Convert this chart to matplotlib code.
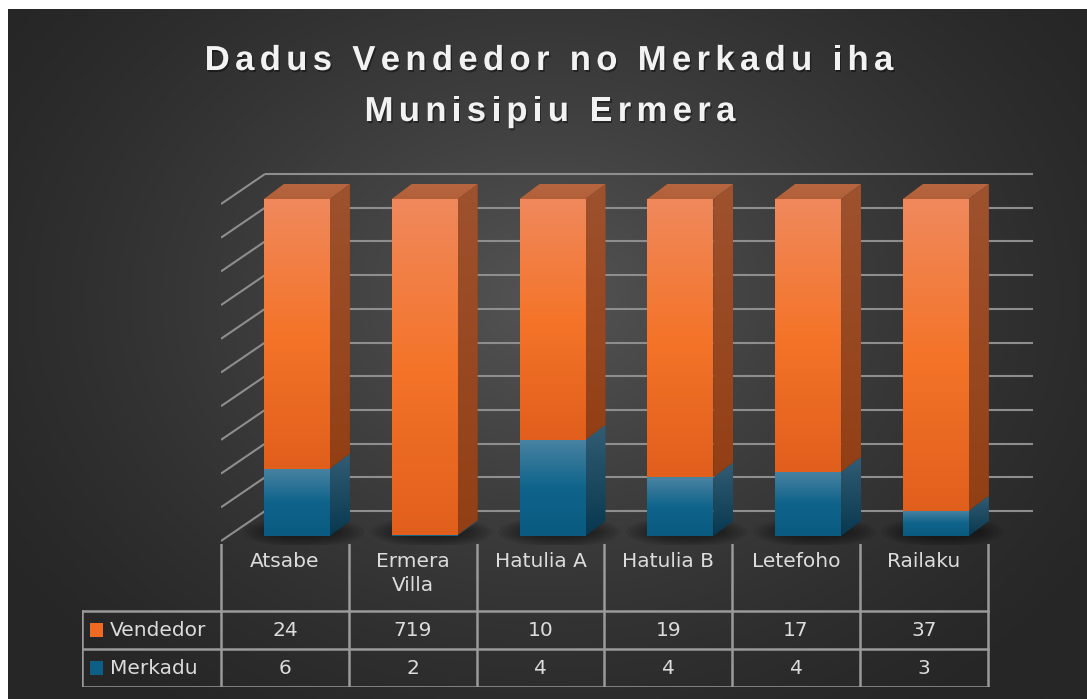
import numpy as np
import matplotlib
matplotlib.use("Agg")
import matplotlib.pyplot as plt
from matplotlib.patches import Rectangle, Polygon, Ellipse
from matplotlib.colors import LinearSegmentedColormap
from matplotlib.font_manager import FontProperties
from matplotlib.textpath import TextToPath
import matplotlib.patheffects as pe

# data
categories = ["Atsabe", "Ermera\nVilla", "Hatulia A", "Hatulia B", "Letefoho", "Railaku"]
vendedor = [24, 719, 10, 19, 17, 37]
merkadu = [6, 2, 4, 4, 4, 3]
series_names = ["Vendedor", "Merkadu"]
title_lines = ["Dadus Vendedor no Merkadu iha", "Munisipiu Ermera"]

W, H = 1087, 699
fig = plt.figure(figsize=(W / 100, H / 100), dpi=100, facecolor="white")


def box(l, t, r, b):
    # pixel box -> figure fraction
    return [l / W, 1 - b / H, (r - l) / W, (b - t) / H]


# dark radial background
bg = fig.add_axes(box(8, 9, W, H))
yy, xx = np.mgrid[0:1:300j, 0:1:400j]
d = np.sqrt(((xx - 0.5) / 0.62) ** 2 + ((yy - 0.42) / 0.75) ** 2)
shade = np.clip(1 - d, 0, 1) ** 1.3
bg_cmap = LinearSegmentedColormap.from_list("bg", ["#262626", "#545454"], N=512)
bg.imshow(shade, cmap=bg_cmap, aspect="auto", extent=(0, 1, 0, 1), origin="upper")
bg.axis("off")

# 3d-ish plot area (x = category, y = percent)
ax = fig.add_axes(box(221, 165, 1040, 545))
ax.axis("off")

px_x = 127.8   # pixels per category
px_y = 3.37    # pixels per percent
bar_off = 12 / px_x
bar_w = 66 / px_x
dx, dy = 20 / px_x, 15 / px_y
wall_y0 = -5 / px_y
wall_dx, wall_dy = 44 / px_x, 30 / px_y
x_end = -0.5 + 812 / px_x
grid_c = "#8e8e8e"

for p in range(0, 101, 10):
    ax.plot([-0.5, -0.5 + wall_dx], [p + wall_y0, p + wall_y0 + wall_dy],
            color=grid_c, lw=1.5, zorder=1, solid_capstyle="butt")
    ax.plot([-0.5 + wall_dx, x_end], [p + wall_y0 + wall_dy] * 2,
            color=grid_c, lw=1.5, zorder=1, solid_capstyle="butt")


def grad_poly(verts, colors, z):
    poly = Polygon(verts, closed=True, facecolor="none", edgecolor="none", zorder=z)
    ax.add_patch(poly)
    xs = [v[0] for v in verts]
    ys = [v[1] for v in verts]
    cm = LinearSegmentedColormap.from_list("g", colors, N=1024)
    img = ax.imshow(np.linspace(0, 1, 512).reshape(-1, 1), cmap=cm, aspect="auto",
                    extent=(min(xs), max(xs), min(ys), max(ys)), origin="upper",
                    zorder=z, interpolation="bilinear")
    img.set_clip_path(poly)


orange_front = ["#f0895d", "#f47429", "#e15f1c"]
orange_side = ["#9e522e", "#933f15"]
orange_top = ["#b8663f", "#b1603a"]
blue_front = ["#4a83a2", "#0f648b", "#0a5a81"]
blue_side = ["#335d74", "#07384f"]

for i in range(len(categories)):
    total = vendedor[i] + merkadu[i]
    pm = merkadu[i] / total * 100
    x0 = i + bar_off - bar_w / 2
    x1 = x0 + bar_w
    # soft shadow on the floor
    for k in range(7):
        ax.add_patch(Ellipse((x0 + bar_w * 0.6, 1.2), 0.95 - k * 0.07, 9 - k * 0.9,
                             color="black", alpha=0.07, lw=0, zorder=2))
    segs = [(0, pm, blue_front, blue_side), (pm, 100, orange_front, orange_side)]
    for j, (a, b, fc, sc) in enumerate(segs):
        z = 3 + i * 0.1 + j * 0.01
        grad_poly([(x1, a), (x1 + dx, a + dy), (x1 + dx, b + dy), (x1, b)], sc, z)
        grad_poly([(x0, a), (x1, a), (x1, b), (x0, b)], fc, z + 0.005)
    grad_poly([(x0, 100), (x1, 100), (x1 + dx, 100 + dy), (x0 + dx, 100 + dy)],
              orange_top, 3 + i * 0.1 + 0.02)

ax.set_xlim(-0.5, -0.5 + 819 / px_x)
ax.set_ylim(-9 / px_y, -9 / px_y + 380 / px_y)

# data table
tab = fig.add_axes(box(82, 544, 1040, 686.5))
tab.axis("off")
left = -0.5 - 139 / px_x
tab.set_xlim(left, -0.5 + 819 / px_x)
tab.set_ylim(3.75, 0)
line_c = "#9a9a9a"
txt_c = "#dcdcdc"
n = len(categories)
fs = 14.5

for i in range(n + 1):
    tab.plot([i - 0.5, i - 0.5], [0, 3.75], color=line_c, lw=1.8)
tab.plot([left, left], [1.75, 3.75], color=line_c, lw=1.8)
for yv in [1.75, 2.75, 3.75]:
    tab.plot([left, n - 0.5], [yv, yv], color=line_c, lw=1.8)

for i, c in enumerate(categories):
    tab.text(i, 0.2, c, ha="center", va="top", color=txt_c, fontsize=fs,
             linespacing=1.35, family="DejaVu Sans")
    tab.text(i, 2.27, str(vendedor[i]), ha="center", va="center", color=txt_c,
             fontsize=fs, family="DejaVu Sans")
    tab.text(i, 3.27, str(merkadu[i]), ha="center", va="center", color=txt_c,
             fontsize=fs, family="DejaVu Sans")

key_colors = ["#f06a22", "#0c5f87"]
for r, name in enumerate(series_names):
    yc = 2.25 + r
    key = Rectangle((left + 8 / px_x, yc - 0.17), 13 / px_x, 0.36,
                    facecolor=key_colors[r], edgecolor="none")
    tab.add_patch(key)
    tab.text(left + 28 / px_x, yc + 0.02, name, ha="left", va="center", color=txt_c,
             fontsize=fs, family="DejaVu Sans")

# title with letter spacing
fp = FontProperties(family="Liberation Sans", weight="bold", size=25)
ttp = TextToPath()
tracking = 5.3
shadow = [pe.SimplePatchShadow(offset=(1, -1.5), alpha=0.4, shadow_rgbFace="black"),
          pe.Normal()]
for line, base_y, cx in zip(title_lines, [70, 121], [549, 550]):
    widths = [ttp.get_text_width_height_descent(ch, fp, ismath=False)[0] * 100 / 72
              for ch in line]
    total_w = sum(widths) + tracking * (len(line) - 1)
    xpos = cx - total_w / 2
    for ch, wch in zip(line, widths):
        if ch != " ":
            fig.text(xpos / W, 1 - base_y / H, ch, fontproperties=fp, color="#f2f2f2",
                     ha="left", va="baseline", path_effects=shadow)
        xpos += wch + tracking

fig.savefig("out.png", dpi=100, facecolor=fig.get_facecolor())
